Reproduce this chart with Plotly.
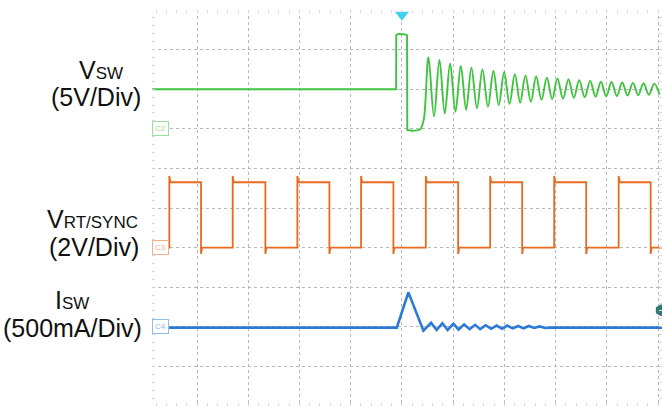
import plotly.graph_objects as go

# time axis in scope divisions, amplitude in screen divisions (grid = 1 div)

# V_SW: flat input, short high pulse, then diode low and ringing
vsw_pulse_t = [0.121, 4.887, 4.890, 4.95, 5.08, 5.100, 5.105, 5.20, 5.30, 5.37]
vsw_pulse_v = [8.00, 8.00, 9.37, 9.40, 9.38, 9.36, 6.97, 6.95, 6.96, 6.99]
vsw_peak_t = [5.518, 5.733, 5.941, 6.150, 6.357, 6.572, 6.787, 6.996, 7.205, 7.412, 7.621,
              7.830, 8.037, 8.252, 8.461, 8.676, 8.885, 9.092, 9.301, 9.510, 9.717, 9.926]
vsw_peak_v = [8.81, 8.74, 8.65, 8.59, 8.54, 8.50, 8.46, 8.43, 8.38, 8.35, 8.32,
              8.29, 8.27, 8.25, 8.23, 8.21, 8.19, 8.18, 8.17, 8.16, 8.15, 8.14]
vsw_trough_t = [5.626, 5.837, 6.046, 6.254, 6.465, 6.680, 6.892, 7.101, 7.309, 7.517, 7.726,
                7.934, 8.145, 8.357, 8.569, 8.781, 8.989, 9.197, 9.406, 9.614, 9.822, 10.03]
vsw_trough_v = [7.31, 7.39, 7.43, 7.48, 7.52, 7.56, 7.60, 7.63, 7.66, 7.68, 7.73,
                7.75, 7.76, 7.78, 7.80, 7.81, 7.82, 7.83, 7.84, 7.85, 7.86, 7.87]

# V_RT/SYNC: square wave, edge times
sync_rise_t = [0.459, 1.697, 2.959, 4.203, 5.467, 6.723, 7.973, 9.232]
sync_fall_t = [1.078, 2.334, 3.584, 4.834, 6.098, 7.348, 8.598, 9.857]
sync_high = 5.65
sync_low = 4.00
sync_spike = 0.16

# I_SW: current spike at the switching event, small ringing afterwards
isw_t = [0.121, 4.900, 5.127, 5.420, 5.570, 5.678, 5.791, 5.893, 6.006, 6.107, 6.215, 6.322,
         6.430, 6.527, 6.635, 6.742, 6.850, 6.957, 7.055, 7.162, 7.270, 7.377, 7.475, 7.582,
         7.689, 7.797, 7.895, 10.078]
isw_v = [1.98, 1.98, 2.87, 1.90, 2.10, 1.92, 2.09, 1.92, 2.08, 1.93, 2.06, 1.94,
         2.05, 1.94, 2.04, 1.95, 2.03, 1.95, 2.03, 1.96, 2.02, 1.96, 2.02, 1.97,
         2.01, 1.97, 1.98, 1.98]

# channel ground markers
ground_levels = [7.0, 4.0, 2.0]
ground_labels = ["C2", "C3", "C4"]
trigger_t = 5.0
trigger_level = 2.42

GREEN = "#3ec43e"
ORANGE = "#ea6a20"
BLUE = "#2a7ad6"
X_RANGE = [0.121, 10.078]
Y_RANGE = [0, 10]

# ringing part: interleave peaks and troughs
ring_t = [vsw_pulse_t[-1], 5.43]
ring_v = [vsw_pulse_v[-1], 7.25]
for pt, pv, tt, tv in zip(vsw_peak_t, vsw_peak_v, vsw_trough_t, vsw_trough_v):
    ring_t += [pt, tt]
    ring_v += [pv, tv]

sync_t = [X_RANGE[0]]
sync_v = [sync_low]
for r, f in zip(sync_rise_t, sync_fall_t):
    sync_t += [r, r, r + 0.02, f, f, f + 0.02]
    sync_v += [sync_low, sync_high + sync_spike, sync_high,
               sync_high, sync_low - sync_spike, sync_low]
sync_t.append(X_RANGE[1])
sync_v.append(sync_low)

fig = go.Figure()
fig.add_trace(go.Scatter(x=vsw_pulse_t, y=vsw_pulse_v, mode="lines",
                         line=dict(color=GREEN, width=1.9)))
fig.add_trace(go.Scatter(x=ring_t, y=ring_v, mode="lines",
                         line=dict(color=GREEN, width=1.9, shape="spline")))
fig.add_trace(go.Scatter(x=sync_t, y=sync_v, mode="lines",
                         line=dict(color=ORANGE, width=1.8)))
fig.add_trace(go.Scatter(x=isw_t, y=isw_v, mode="lines",
                         line=dict(color=BLUE, width=2.6)))

# trigger position and trigger level markers
fig.add_trace(go.Scatter(x=[trigger_t], y=[9.88], mode="markers", cliponaxis=False,
                         marker=dict(symbol="triangle-down", size=12, color="#3fd0f0")))
fig.add_trace(go.Scatter(x=[10.06], y=[trigger_level], mode="markers", cliponaxis=False,
                         marker=dict(symbol="hexagon", size=12, color="#2e7c76")))

light = {"C2": "#9fe09f", "C3": "#f2b08c", "C4": "#8fbdec"}
for lvl, lab in zip(ground_levels, ground_labels):
    fig.add_annotation(x=0.29, y=lvl, xref="x", yref="y", text=lab, showarrow=False,
                       font=dict(size=8, color=light[lab], family="Arial, Liberation Sans"),
                       bordercolor=light[lab], borderwidth=1, borderpad=2, bgcolor="white")


def paper(px, py):
    return (px - 152) / 510, (406 - py) / 396


labels = [
    ("V<span style='font-size:17px'>SW</span>", 101, 70),
    ("(5V/Div)", 96, 97),
    ("V<span style='font-size:17px'>RT/SYNC</span>", 92, 219),
    ("(2V/Div)", 94, 247),
    ("I<span style='font-size:17px'>SW</span>", 72, 300),
    ("(500mA/Div)", 72, 328),
]
for txt, px, py in labels:
    x, y = paper(px, py)
    fig.add_annotation(x=x, y=y, xref="paper", yref="paper", text=txt, showarrow=False,
                       xanchor="center", yanchor="middle", borderpad=0,
                       font=dict(size=25, color="#111111", family="Arial, Liberation Sans"))

axis_common = dict(showticklabels=False, zeroline=False, showline=False,
                   showgrid=True, gridcolor="#b8b8b8", griddash="dot", gridwidth=1,
                   ticks="inside", ticklen=3, tickcolor="#d0d0d0", mirror="ticks",
                   tick0=0, dtick=1, fixedrange=True)
fig.update_xaxes(range=X_RANGE, minor=dict(ticks="inside", ticklen=3, dtick=0.2,
                                           tickcolor="#d8d8d8", showgrid=False),
                 **axis_common)
fig.update_yaxes(range=Y_RANGE, minor=dict(ticks="inside", ticklen=3, dtick=0.2,
                                           tickcolor="#d8d8d8", showgrid=False),
                 **axis_common)
fig.update_layout(width=662, height=406, margin=dict(l=152, r=0, t=10, b=0),
                  plot_bgcolor="white", paper_bgcolor="white", showlegend=False)

# page body has a default margin; drop it so the figure sits at the window corner
fig.write_html("out.html", config={"displayModeBar": False},
               post_script="document.body.style.margin='0';")
